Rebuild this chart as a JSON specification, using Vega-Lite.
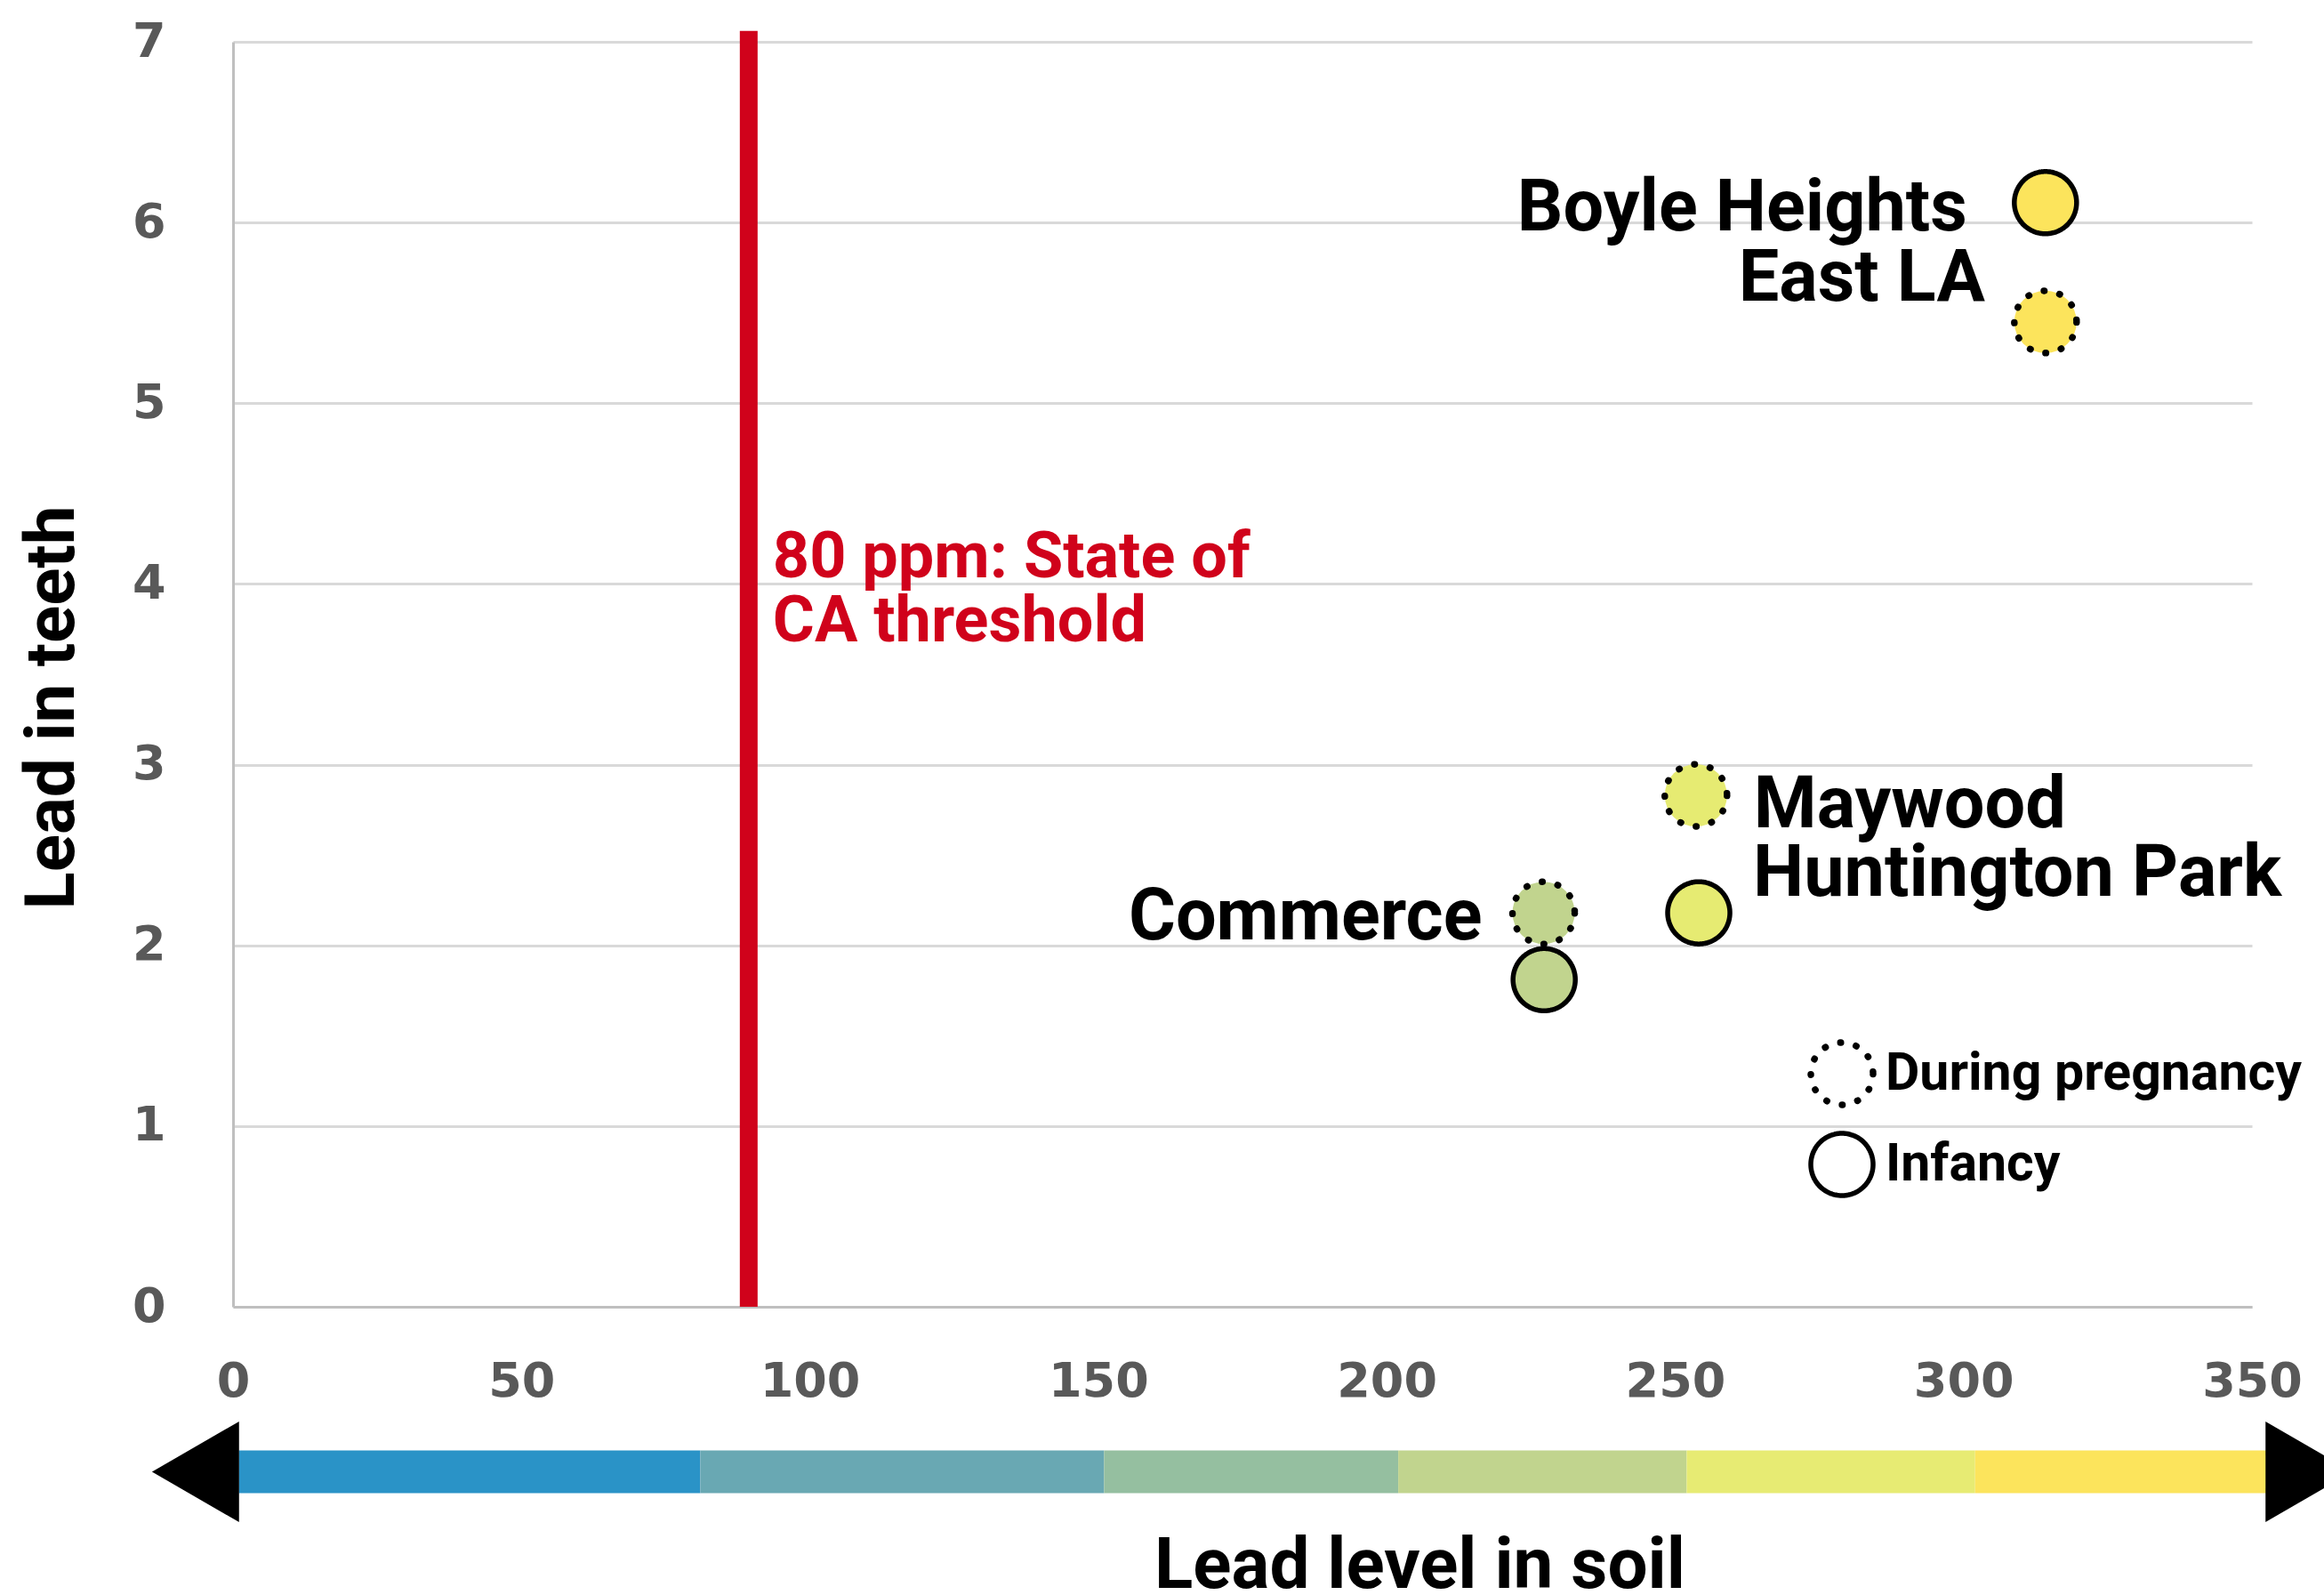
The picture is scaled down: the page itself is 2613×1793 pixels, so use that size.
{
  "$schema": "https://vega.github.io/schema/vega-lite/v6.json",
  "background": "white",
  "padding": {"left": 20, "top": 20, "right": 0, "bottom": 0},
  "spacing": 18,
  "config": {"view": {"stroke": null}, "font": "Roboto"},
  "datasets": {
    "points": [
      {"community": "Boyle Heights / East LA", "period": "During pregnancy", "soil": 314.2, "teeth": 5.45},
      {"community": "Boyle Heights / East LA", "period": "Infancy", "soil": 314.2, "teeth": 6.11},
      {"community": "Maywood / Huntington Park", "period": "During pregnancy", "soil": 253.6, "teeth": 2.83},
      {"community": "Maywood / Huntington Park", "period": "Infancy", "soil": 254.1, "teeth": 2.18},
      {"community": "Commerce", "period": "During pregnancy", "soil": 227.2, "teeth": 2.18},
      {"community": "Commerce", "period": "Infancy", "soil": 227.3, "teeth": 1.81}
    ],
    "threshold": [{"soil": 89.4, "label": "80 ppm: State of\nCA threshold"}],
    "soilscale": [
      {"level": "lowest", "from": 1, "to": 81},
      {"level": "low", "from": 81, "to": 151},
      {"level": "medium-low", "from": 151, "to": 202},
      {"level": "medium", "from": 202, "to": 252},
      {"level": "high", "from": 252, "to": 302},
      {"level": "highest", "from": 302, "to": 353}
    ],
    "ends": [{"end": "low", "soil": -6.5}, {"end": "high", "soil": 359.9}]
  },
  "resolve": {"scale": {"x": "independent", "y": "independent"}},
  "vconcat": [
    {
      "width": 2270,
      "height": 1422,
      "layer": [
        {
          "data": {"name": "threshold"},
          "mark": {"type": "rule", "color": "#D0021B", "strokeWidth": 20},
          "encoding": {
            "x": {"field": "soil", "type": "quantitative", "scale": {"domain": [0, 350], "nice": false, "zero": false}},
            "y": {"datum": 7.06, "type": "quantitative"},
            "y2": {"datum": 0}
          }
        },
        {
          "data": {"name": "threshold"},
          "mark": {"type": "text", "align": "left", "baseline": "alphabetic", "dx": 27, "dy": -7, "font": "Roboto", "fontWeight": "bold", "fontSize": 72, "lineHeight": 72, "lineBreak": "\n", "color": "#D0021B"},
          "encoding": {
            "x": {"field": "soil", "type": "quantitative"},
            "y": {"datum": 4, "type": "quantitative"},
            "text": {"field": "label"}
          }
        },
        {
          "data": {"name": "points"},
          "mark": {"type": "point", "filled": true, "opacity": 1, "stroke": "black", "strokeCap": "round", "size": 4900},
          "encoding": {
            "x": {
              "field": "soil", "type": "quantitative",
              "scale": {"domain": [0, 350], "nice": false, "zero": false},
              "axis": {
                "title": null, "grid": false, "ticks": false,
                "values": [0, 50, 100, 150, 200, 250, 300, 350], "format": "d",
                "labelFont": "DejaVu Sans", "labelFontWeight": "bold", "labelFontSize": 54, "labelColor": "#595959",
                "labelBaseline": "alphabetic", "labelPadding": 100, "labelFlush": false, "labelOverlap": false,
                "domainColor": "#BFBFBF", "domainWidth": 3
              }
            },
            "y": {
              "field": "teeth", "type": "quantitative",
              "scale": {"domain": [0, 7], "nice": false, "zero": true},
              "axis": {
                "title": "Lead in teeth", "ticks": false,
                "values": [0, 1, 2, 3, 4, 5, 6, 7], "format": "d",
                "grid": true, "gridColor": "#D9D9D9", "gridWidth": 3,
                "labelFont": "DejaVu Sans", "labelFontWeight": "bold", "labelFontSize": 54, "labelColor": "#595959",
                "labelPadding": 76, "labelFlush": false, "labelOverlap": false,
                "domainColor": "#BFBFBF", "domainWidth": 3,
                "titleFont": "Roboto", "titleFontWeight": "bold", "titleFontSize": 78, "titleColor": "black",
                "titlePadding": 50, "titleY": 748
              }
            },
            "fill": {
              "field": "community", "type": "nominal",
              "scale": {"domain": ["Boyle Heights / East LA", "Maywood / Huntington Park", "Commerce"], "range": ["#FCE45C", "#E6EB72", "#C1D48E"]},
              "legend": null
            },
            "strokeWidth": {
              "field": "period", "type": "nominal",
              "scale": {"domain": ["During pregnancy", "Infancy"], "range": [7.5, 5.5]},
              "legend": null
            },
            "strokeDash": {
              "field": "period", "type": "nominal",
              "scale": {"domain": ["During pregnancy", "Infancy"], "range": [[0.5, 17.6], [1, 0]]},
              "legend": {
                "title": null, "orient": "none", "legendX": 1770, "legendY": 1121,
                "symbolType": "circle", "symbolSize": 4900, "symbolStrokeWidth": 6.5, "symbolStrokeColor": "black",
                "symbolFillColor": "white", "symbolOpacity": 1,
                "labelFont": "Roboto", "labelFontWeight": "bold", "labelFontSize": 59, "labelColor": "black", "labelLimit": 0,
                "labelOffset": 10, "rowPadding": 6, "padding": 0,
                "encode": {"symbols": {"update": {"strokeCap": {"value": "round"}, "fill": {"value": "white"}, "stroke": {"value": "black"}}}}
              }
            }
          }
        },
        {
          "data": {"name": "points"},
          "transform": [{"filter": "datum.community === 'Boyle Heights / East LA' && datum.period === 'Infancy'"}],
          "mark": {"type": "text", "align": "right", "baseline": "alphabetic", "dx": -88, "dy": 31, "font": "Roboto", "fontWeight": "bold", "fontSize": 81, "color": "black"},
          "encoding": {"x": {"field": "soil", "type": "quantitative"}, "y": {"field": "teeth", "type": "quantitative"}, "text": {"value": "Boyle Heights"}}
        },
        {
          "data": {"name": "points"},
          "transform": [{"filter": "datum.community === 'Boyle Heights / East LA' && datum.period === 'During pregnancy'"}],
          "mark": {"type": "text", "align": "right", "baseline": "alphabetic", "dx": -68, "dy": -24, "font": "Roboto", "fontWeight": "bold", "fontSize": 81, "color": "black"},
          "encoding": {"x": {"field": "soil", "type": "quantitative"}, "y": {"field": "teeth", "type": "quantitative"}, "text": {"value": "East LA"}}
        },
        {
          "data": {"name": "points"},
          "transform": [{"filter": "datum.community === 'Maywood / Huntington Park' && datum.period === 'During pregnancy'"}],
          "mark": {"type": "text", "align": "left", "baseline": "alphabetic", "dx": 65, "dy": 36, "font": "Roboto", "fontWeight": "bold", "fontSize": 81, "color": "black"},
          "encoding": {"x": {"field": "soil", "type": "quantitative"}, "y": {"field": "teeth", "type": "quantitative"}, "text": {"value": "Maywood"}}
        },
        {
          "data": {"name": "points"},
          "transform": [{"filter": "datum.community === 'Maywood / Huntington Park' && datum.period === 'Infancy'"}],
          "mark": {"type": "text", "align": "left", "baseline": "alphabetic", "dx": 61, "dy": -19, "font": "Roboto", "fontWeight": "bold", "fontSize": 81, "color": "black"},
          "encoding": {"x": {"field": "soil", "type": "quantitative"}, "y": {"field": "teeth", "type": "quantitative"}, "text": {"value": "Huntington Park"}}
        },
        {
          "data": {"name": "points"},
          "transform": [{"filter": "datum.community === 'Commerce' && datum.period === 'During pregnancy'"}],
          "mark": {"type": "text", "align": "right", "baseline": "alphabetic", "dx": -69, "dy": 30, "font": "Roboto", "fontWeight": "bold", "fontSize": 81, "color": "black"},
          "encoding": {"x": {"field": "soil", "type": "quantitative"}, "y": {"field": "teeth", "type": "quantitative"}, "text": {"value": "Commerce"}}
        }
      ]
    },
    {
      "width": 2270,
      "height": 113,
      "layer": [
        {
          "data": {"name": "soilscale"},
          "mark": {"type": "rect"},
          "encoding": {
            "x": {
              "field": "from", "type": "quantitative",
              "scale": {"domain": [0, 350], "nice": false, "zero": false},
              "axis": {
                "title": "Lead level in soil", "labels": false, "ticks": false, "domain": false, "grid": false,
                "titleFont": "Roboto", "titleFontWeight": "bold", "titleFontSize": 80, "titleColor": "black",
                "titleBaseline": "alphabetic", "titlePadding": 73, "titleX": 1334, "titleAlign": "center"
              }
            },
            "x2": {"field": "to"},
            "y": {"datum": -0.425, "type": "quantitative", "scale": {"domain": [-1, 1]}, "axis": null},
            "y2": {"datum": 0.425},
            "color": {
              "field": "level", "type": "nominal",
              "scale": {"domain": ["lowest", "low", "medium-low", "medium", "high", "highest"], "range": ["#2A93C7", "#69A8B3", "#95BFA0", "#C1D48E", "#E7EB73", "#FCE45C"]},
              "legend": null
            }
          }
        },
        {
          "data": {"name": "ends"},
          "mark": {"type": "point", "filled": true, "opacity": 1, "color": "black", "size": 12769},
          "encoding": {
            "x": {"field": "soil", "type": "quantitative"},
            "y": {"datum": 0, "type": "quantitative"},
            "shape": {"field": "end", "type": "nominal", "scale": {"domain": ["low", "high"], "range": ["triangle-left", "triangle-right"]}, "legend": null}
          }
        }
      ]
    }
  ]
}
